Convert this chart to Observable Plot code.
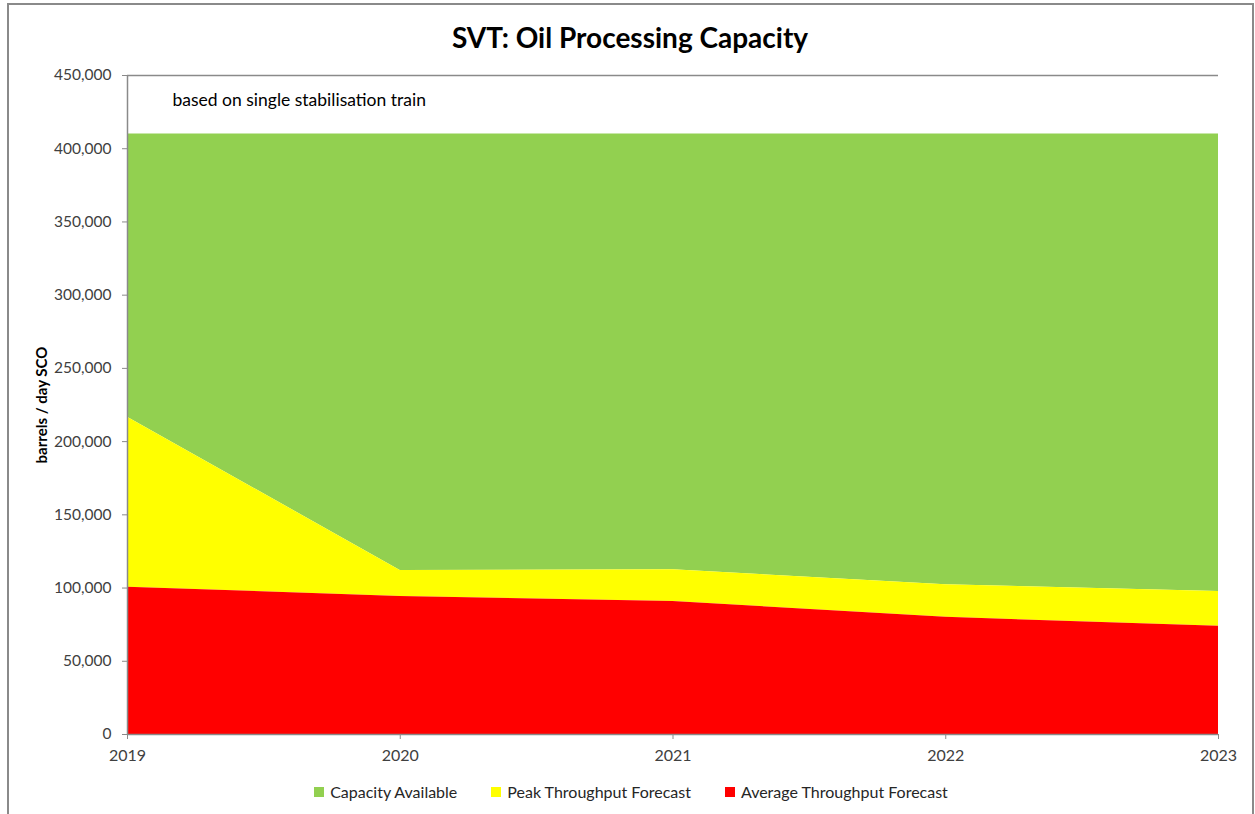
<!DOCTYPE html>
<html>
<head>
<meta charset="utf-8">
<script src="https://cdn.jsdelivr.net/npm/d3@7"></script>
<script src="https://cdn.jsdelivr.net/npm/@observablehq/plot@0.6"></script>
<style>
  html, body { margin: 0; padding: 0; background: #fff; overflow: hidden; width: 1255px; height: 814px; }
  body { font-family: Lato, "Open Sans", sans-serif; position: relative; }
  #frame { position: absolute; left: 7px; top: 3px; width: 1243px; height: 900px;
           border-left: 2px solid #8a8a8a; border-top: 2px solid #8a8a8a; border-right: 2px solid #8a8a8a; }
  #title { position: absolute; left: 0; top: 18px; width: 1260px; text-align: center;
           font-size: 28px; font-weight: bold; color: #000; line-height: 38px; }
  #chart { position: absolute; left: 0; top: 62px; }
  #legend { position: absolute; left: 0; top: 781px; width: 1262px; display: flex; justify-content: center;
            font-size: 16px; color: #262626; line-height: 22px; }
  .item { display: flex; align-items: center; margin: 0 17px; }
  .sw { width: 10px; height: 10px; margin-right: 6px; }
</style>
</head>
<body>
<div id="frame"></div>
<div id="title">SVT: Oil Processing Capacity</div>
<div id="chart"></div>
<div id="legend"></div>
<script>
const years = [2019, 2020, 2021, 2022, 2023];
const averageThroughput = [100600, 94200, 90800, 80000, 73900];
const peakThroughput = [216700, 112000, 112500, 102300, 97600];
const capacity = [410000, 410000, 410000, 410000, 410000];
const seriesNames = ["Capacity Available", "Peak Throughput Forecast", "Average Throughput Forecast"];
const seriesColors = ["#92D050", "#FFFF00", "#FF0000"];
const yTicks = [0, 50000, 100000, 150000, 200000, 250000, 300000, 350000, 400000, 450000];

const rows = years.map((y, i) => ({year: y, avg: averageThroughput[i], peak: peakThroughput[i], cap: capacity[i]}));
const fmt = d3.format(",");
const axisGrey = "#8a8a8a";
const textCol = "#404040";

const svg = Plot.plot({
  width: 1255,
  height: 712,
  marginLeft: 127,
  marginRight: 37,
  marginTop: 13,
  marginBottom: 40,
  style: {fontFamily: "Lato, 'Open Sans', sans-serif", background: "transparent"},
  x: {domain: [2019, 2023], ticks: years, tickFormat: d => String(d)},
  y: {domain: [0, 450000], ticks: yTicks, tickFormat: fmt},
  marks: [
    Plot.areaY(rows, {x: "year", y1: "peak", y2: "cap", fill: seriesColors[0]}),
    Plot.areaY(rows, {x: "year", y1: "avg", y2: "peak", fill: seriesColors[1]}),
    Plot.areaY(rows, {x: "year", y1: 0, y2: "avg", fill: seriesColors[2]}),
    Plot.ruleY([450000], {stroke: axisGrey, strokeWidth: 1.5}),
    Plot.ruleY([0], {stroke: axisGrey, strokeWidth: 1.5}),
    Plot.ruleX([2019], {stroke: axisGrey, strokeWidth: 1.5}),
    Plot.axisY({ticks: yTicks, tickFormat: fmt, tickSize: 5, tickPadding: 11, fontSize: 15.5, stroke: axisGrey, color: axisGrey, label: null}),
    Plot.axisX({ticks: years, tickFormat: d => String(d), tickSize: 5, tickPadding: 10, fontSize: 16, stroke: axisGrey, color: axisGrey, label: null}),
    Plot.text(["barrels / day SCO"], {frameAnchor: "left", dx: -85, rotate: -90, textAnchor: "middle", fontWeight: "bold", fontSize: 15, fill: "#000"}),
    Plot.text(["based on single stabilisation train"], {frameAnchor: "top-left", dx: 45, dy: 18, textAnchor: "start", fontSize: 17.5, fill: "#000"})
  ]
});
svg.querySelectorAll('g[aria-label="y-axis tick label"], g[aria-label="x-axis tick label"]').forEach(g => {
  g.setAttribute("fill", textCol);
  g.querySelectorAll("text").forEach(t => t.setAttribute("fill", textCol));
});
document.getElementById("chart").appendChild(svg);

const legend = document.getElementById("legend");
seriesNames.forEach((name, i) => {
  const item = document.createElement("div");
  item.className = "item";
  const sw = document.createElement("span");
  sw.className = "sw";
  sw.style.background = seriesColors[i];
  const lab = document.createElement("span");
  lab.textContent = name;
  item.appendChild(sw);
  item.appendChild(lab);
  legend.appendChild(item);
});
</script>
</body>
</html>
